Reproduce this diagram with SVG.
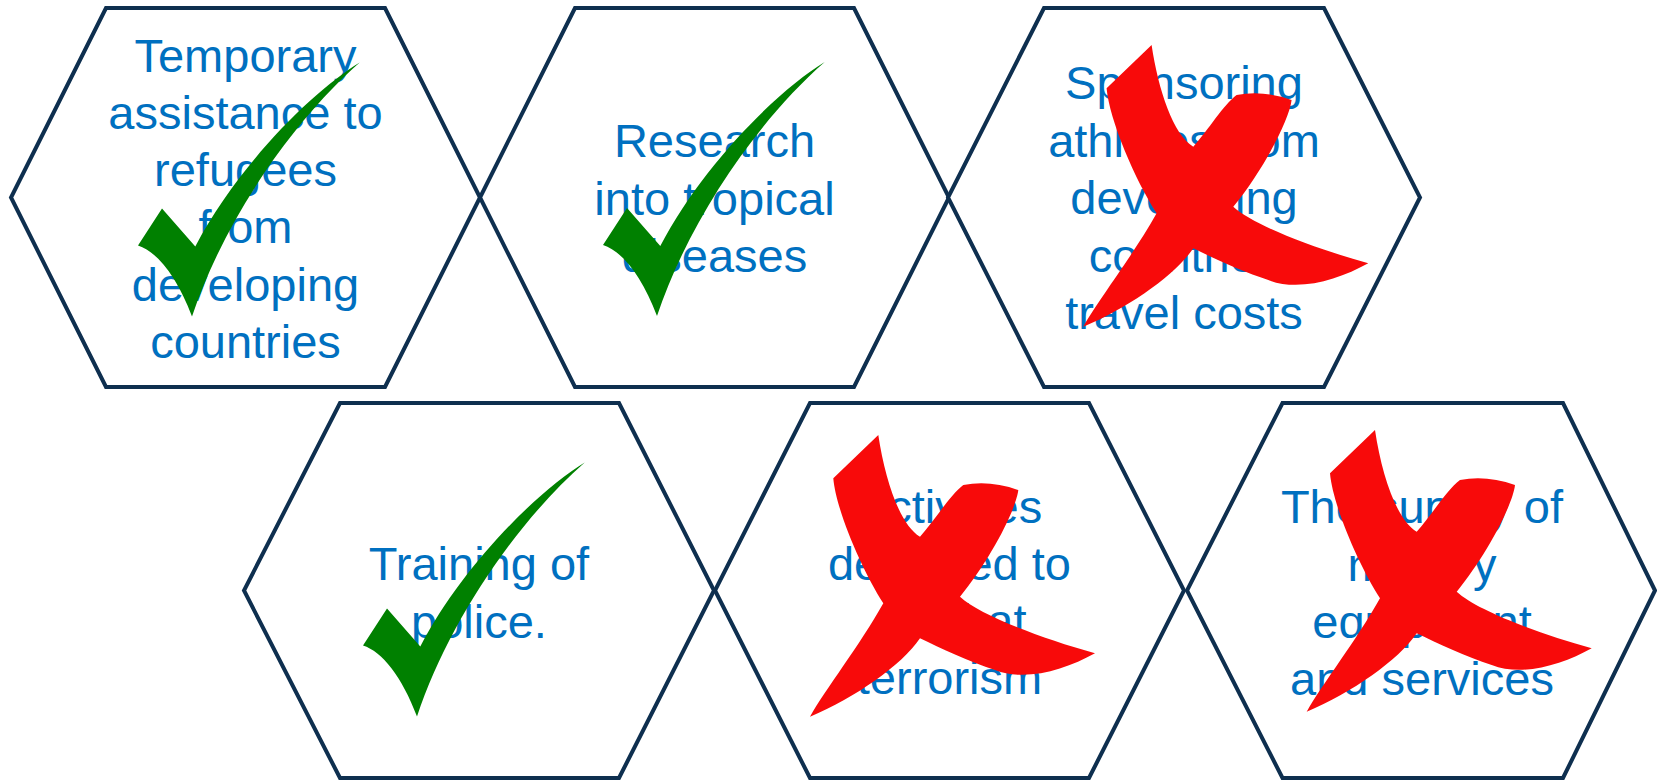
<svg xmlns="http://www.w3.org/2000/svg" width="1657" height="781" viewBox="0 0 1657 781">
<style>
.hex{fill:#ffffff;stroke:#0E2F4F;stroke-width:4;stroke-linejoin:miter}
.t{font-family:"Liberation Sans",Arial,sans-serif;font-size:47px;fill:#0070C0;text-anchor:middle}
.chk{fill:#008000}
.crs{fill:#F80A0A}
</style>
<defs>
<path id="check" d="M0,0 C30,-90 95,-190 167.7,-254 C120,-225 45,-150 3.3,-70 L-30,-108 L-54,-71 C-35,-65 -15,-40 0,0 Z"/>
<path id="cross" d="M-41.7,-155 C-35,-110 -20,-65 0,-53.3 C15,-70 30,-95 43.3,-105 Q70,-110 98.3,-100 C96,-80 70,-30 40,6.7 C60,25 120,48 175,63.3 C145,80 105,92 75,80 C50,72 20,58 0,48.3 C-18,75 -65,108 -110,126.7 C-95,100 -60,55 -36.7,13.3 C-58,-20 -84,-80 -86.7,-111.7 Z"/>
</defs>
<rect width="1657" height="781" fill="#ffffff"/>
<g id="connectors"/>
<g id="node1">
<polygon class="hex" points="106,8 385,8 480,197.5 385,387 106,387 11,197.5"/>
<text class="t" x="245.5" y="71.5">Temporary</text>
<text class="t" x="245.5" y="128.5">assistance to</text>
<text class="t" x="245.5" y="185.5">refugees</text>
<text class="t" x="245.5" y="243">from</text>
<text class="t" x="245.5" y="301">developing</text>
<text class="t" x="245.5" y="358">countries</text>
<use href="#check" class="chk" transform="translate(192,316.5)"/>
</g>
<g id="node2">
<polygon class="hex" points="575,8 854,8 949,197.5 854,387 575,387 480,197.5"/>
<text class="t" x="714.5" y="157">Research</text>
<text class="t" x="714.5" y="214.5">into tropical</text>
<text class="t" x="714.5" y="272">diseases</text>
<use href="#check" class="chk" transform="translate(657,316)"/>
</g>
<g id="node3">
<polygon class="hex" points="1044,8 1324,8 1420,197.5 1324,387 1044,387 948,197.5"/>
<text class="t" x="1184" y="99">Sponsoring</text>
<text class="t" x="1184" y="156.5">athletes from</text>
<text class="t" x="1184" y="214">developing</text>
<text class="t" x="1184" y="271.5">countries</text>
<text class="t" x="1184" y="329">travel costs</text>
<use href="#cross" class="crs" transform="translate(1193.3,200)"/>
</g>
<g id="node4">
<polygon class="hex" points="340,403 619,403 714,590.5 619,778 340,778 244,590.5"/>
<text class="t" x="479" y="580">Training of</text>
<text class="t" x="479" y="637.5">police.</text>
<use href="#check" class="chk" transform="translate(417,716.5)"/>
</g>
<g id="node5">
<polygon class="hex" points="810,403 1089,403 1184,590.5 1089,778 810,778 715,590.5"/>
<text class="t" x="949.5" y="523">Activities</text>
<text class="t" x="949.5" y="580">designed to</text>
<text class="t" x="949.5" y="637">combat</text>
<text class="t" x="949.5" y="694">terrorism</text>
<use href="#cross" class="crs" transform="translate(920,590)"/>
</g>
<g id="node6">
<polygon class="hex" points="1282.5,403 1563,403 1655,590.5 1563,778 1282.5,778 1187,590.5"/>
<text class="t" x="1422" y="523">The supply of</text>
<text class="t" x="1422" y="581">military</text>
<text class="t" x="1422" y="638">equipment</text>
<text class="t" x="1422" y="695">and services</text>
<use href="#cross" class="crs" transform="translate(1416.7,585)"/>
</g>
</svg>
